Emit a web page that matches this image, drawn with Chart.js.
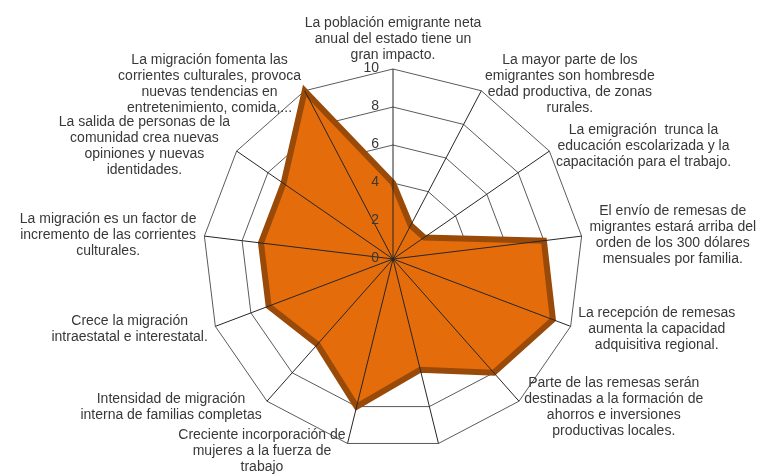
<!DOCTYPE html>
<html>
<head>
<meta charset="utf-8">
<script src="https://cdn.jsdelivr.net/npm/chart.js@4.4.1/dist/chart.umd.min.js"></script>
<style>
  html, body { margin: 0; padding: 0; background: #ffffff; }
  canvas { display: block; }
</style>
</head>
<body>
<canvas id="grafico" width="765" height="474"></canvas>
<script>
// Categorías (una sin texto en el eje de abajo)
const categorias = [
  ["La población emigrante neta", "anual del estado tiene un", "gran impacto."],
  ["La mayor parte de los", "emigrantes son hombresde", "edad productiva, de zonas", "rurales."],
  ["La emigración  trunca la", "educación escolarizada y la", "capacitación para el trabajo."],
  ["El envío de remesas de", "migrantes estará arriba del", "orden de los 300 dólares", "mensuales por familia."],
  ["La recepción de remesas", "aumenta la capacidad", "adquisitiva regional."],
  ["Parte de las remesas serán", "destinadas a la formación de", "ahorros e inversiones", "productivas locales."],
  "",
  ["Creciente incorporación de", "mujeres a la fuerza de", "trabajo"],
  ["Intensidad de migración", "interna de familias completas"],
  ["Crece la migración", "intraestatal e interestatal."],
  ["La migración es un factor de", "incremento de las corrientes", "culturales."],
  ["La salida de personas de la", "comunidad crea nuevas", "opiniones y nuevas", "identidades."],
  ["La migración fomenta las", "corrientes culturales, provoca", "nuevas tendencias en", "entretenimiento, comida,..."],
];

// Valores de la serie
const valores = [4, 2, 2, 8, 9, 8, 6, 8, 6, 7, 7, 7, 10];

// Marcas del eje radial
const marcas = [0, 2, 4, 6, 8, 10];

const fuente = '14px "Liberation Sans", Arial, sans-serif';
const colorTexto = "#383838";

// Dibuja radios, marcas y etiquetas encima del área (como en Excel)
const encima = {
  id: "encima",
  afterDatasetsDraw(chart) {
    const r = chart.scales.r;
    const ctx = chart.ctx;
    ctx.save();

    // radios
    ctx.strokeStyle = "#262626";
    ctx.lineWidth = 1;
    for (let i = 0; i < categorias.length; i++) {
      const p = r.getPointPosition(i, r.drawingArea);
      ctx.beginPath();
      ctx.moveTo(r.xCenter, r.yCenter);
      ctx.lineTo(p.x, p.y);
      ctx.stroke();
    }

    // marcas del eje
    ctx.font = fuente;
    ctx.fillStyle = colorTexto;
    ctx.textAlign = "right";
    ctx.textBaseline = "middle";
    r.ticks.forEach((t) => {
      const d = r.getDistanceFromCenterForValue(t.value);
      ctx.fillText(String(t.value), r.xCenter - 14, r.yCenter - d - 1);
    });

    // etiquetas de categoría
    const alto = 16;
    ctx.textAlign = "center";
    for (let i = 0; i < categorias.length; i++) {
      const lineas = Array.isArray(categorias[i]) ? categorias[i] : [categorias[i]];
      if (!lineas[0]) continue;
      const ang = (r.getIndexAngle(i) * 180) / Math.PI;
      const p = r.getPointPosition(i, r.drawingArea + 8);
      const ancho = Math.max(...lineas.map((l) => ctx.measureText(l).width));
      const h = lineas.length * alto;
      let izq, arriba;
      if (ang < 1 || ang > 359) {
        izq = p.x - ancho / 2;
        arriba = p.y - h + 2;
      } else if (Math.abs(ang - 180) < 1) {
        izq = p.x - ancho / 2;
        arriba = p.y;
      } else if (ang < 180) {
        izq = p.x;
        arriba = p.y - h / 2;
      } else {
        izq = p.x - ancho;
        arriba = p.y - h / 2;
      }
      lineas.forEach((l, k) => {
        ctx.fillText(l, izq + ancho / 2, arriba + alto * (k + 0.5));
      });
    }
    ctx.restore();
  },
};

const ctx = document.getElementById("grafico").getContext("2d");

new Chart(ctx, {
  type: "radar",
  data: {
    labels: categorias,
    datasets: [
      {
        label: "Serie 1",
        data: valores,
        backgroundColor: "#E46C0A",
        borderColor: "#9A4A08",
        borderWidth: 6,
        borderJoinStyle: "miter",
        pointRadius: 0,
        fill: true,
        tension: 0,
      },
    ],
  },
  options: {
    responsive: false,
    animation: false,
    devicePixelRatio: 1,
    layout: {
      padding: { top: 69, bottom: 25, left: 203, right: 182 },
    },
    plugins: {
      legend: { display: false },
      tooltip: { enabled: false },
    },
    scales: {
      r: {
        min: marcas[0],
        max: marcas[marcas.length - 1],
        ticks: { stepSize: 2, display: false },
        grid: { color: "#5a5a5a", lineWidth: 1 },
        angleLines: { display: false },
        pointLabels: { display: false },
      },
    },
  },
  plugins: [encima],
});
</script>
</body>
</html>
